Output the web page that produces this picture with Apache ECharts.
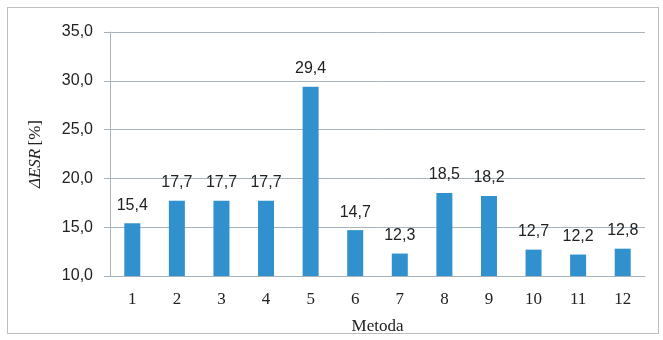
<!DOCTYPE html>
<html><head><meta charset="utf-8">
<script src="https://cdn.jsdelivr.net/npm/echarts@6/dist/echarts.min.js"></script>
<style>html,body{margin:0;padding:0;background:#fff}#c{width:663px;height:340px}
#b{position:absolute;left:7px;top:7px;width:652px;height:327px;border:1.5px solid #bdbdbd;box-sizing:border-box;pointer-events:none}</style>
</head><body><div id="c"></div><div id="b"></div>
<script>
const categories = ['1','2','3','4','5','6','7','8','9','10','11','12'];
const values = [15.4, 17.7, 17.7, 17.7, 29.4, 14.7, 12.3, 18.5, 18.2, 12.7, 12.2, 12.8];
const yMin = 10, yMax = 35, yStep = 5;
const fmt = v => v.toFixed(1).replace('.', ',');
const chart = echarts.init(document.getElementById('c'));
chart.setOption({
  animation: false,
  grid: {left: 110, right: 18, top: 32, bottom: 63},
  xAxis: {
    type: 'category', data: categories,
    axisLine: {lineStyle: {color: '#a8b4bc', width: 1}},
    axisTick: {show: false},
    axisLabel: {color: '#222', fontFamily: 'Liberation Serif', fontSize: 17, margin: 15},
    name: 'Metoda', nameLocation: 'middle', nameGap: 42,
    nameTextStyle: {color: '#222', fontFamily: 'Liberation Serif', fontSize: 17}
  },
  yAxis: {
    type: 'value', min: yMin, max: yMax, interval: yStep,
    axisLine: {show: true, lineStyle: {color: '#a8b4bc', width: 1}},
    axisTick: {show: true, inside: false, length: 6, lineStyle: {color: '#a8b4bc'}},
    splitLine: {lineStyle: {color: '#a8b4bc', width: 1}},
    axisLabel: {color: '#222', fontFamily: 'Liberation Sans', fontSize: 16, margin: 17, formatter: v => fmt(v)},
    name: '{i|ΔESR} {n|[%]}', nameLocation: 'middle', nameGap: 66, nameRotate: 90,
    nameTextStyle: {rich: {
      i: {fontFamily: 'Liberation Serif', fontStyle: 'italic', fontSize: 17, color: '#222'},
      n: {fontFamily: 'Liberation Serif', fontSize: 17, color: '#222'}
    }}
  },
  series: [{
    type: 'bar', data: values, barWidth: 16,
    itemStyle: {color: '#3191cf'},
    label: {show: true, position: 'top', distance: 10, color: '#222', fontFamily: 'Liberation Sans', fontSize: 16, formatter: p => fmt(p.value)}
  }]
});
</script></body></html>
